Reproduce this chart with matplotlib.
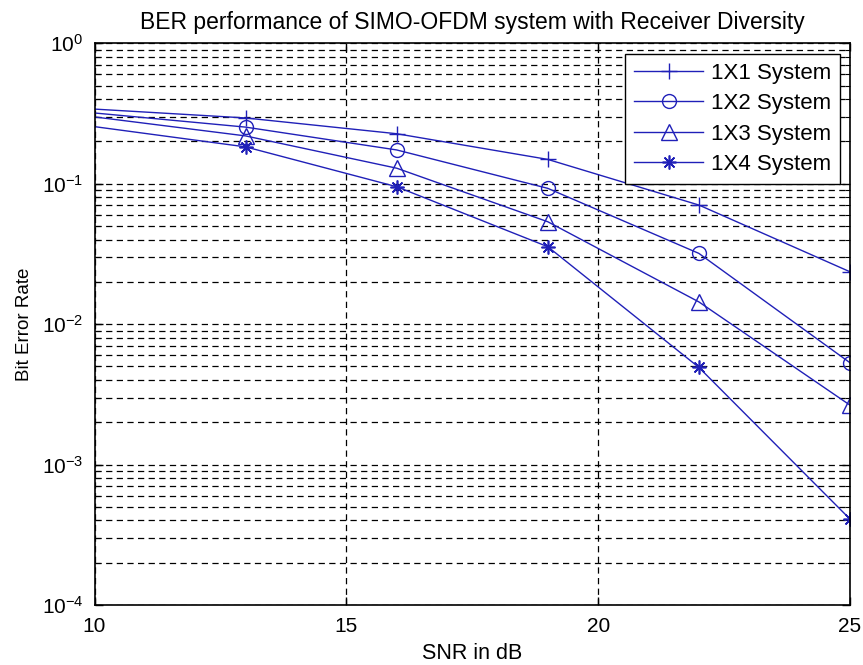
import matplotlib
matplotlib.use("Agg")
import matplotlib.pyplot as plt
from matplotlib.ticker import LogLocator, FixedLocator, NullFormatter

plt.rcParams['font.family'] = ['Liberation Sans', 'DejaVu Sans']
plt.rcParams['mathtext.fontset'] = 'custom'
plt.rcParams['mathtext.rm'] = 'Liberation Sans'

snr = [10, 13, 16, 19, 22, 25]
ber_1x1 = [0.340, 0.294, 0.227, 0.149, 0.0705, 0.0236]
ber_1x2 = [0.319, 0.253, 0.174, 0.0927, 0.0319, 0.00531]
ber_1x3 = [0.299, 0.219, 0.129, 0.0536, 0.0144, 0.00265]
ber_1x4 = [0.255, 0.183, 0.0952, 0.0356, 0.00492, 0.000409]
labels = ['1X1 System', '1X2 System', '1X3 System', '1X4 System']
x_ticks = [10, 15, 20, 25]

fig = plt.figure(figsize=(8.63, 6.65), dpi=100)
ax = fig.add_axes([94.5/863, 60/665, 755.5/863, 561.7/665])

col = '#2020b8'
me = slice(1, None)
ax.semilogy(snr, ber_1x1, color=col, lw=1.0, marker='+', ms=11, mew=1.0, markevery=me, label=labels[0])
ax.semilogy(snr, ber_1x2, color=col, lw=1.0, marker='o', ms=10, mew=1.0, mfc='none', markevery=me, label=labels[1])
ax.semilogy(snr, ber_1x3, color=col, lw=1.0, marker='^', ms=11, mew=1.0, mfc='none', markevery=me, label=labels[2])
ax.semilogy(snr, ber_1x4, color=col, lw=1.0, marker=(8, 2, 0), ms=10, mew=1.2, markevery=me, label=labels[3])

ax.set_xlim(10, 25)
ax.set_ylim(1e-4, 1)
ax.xaxis.set_major_locator(FixedLocator(x_ticks))
ax.yaxis.set_major_locator(LogLocator(base=10, numticks=10))
ax.yaxis.set_minor_locator(LogLocator(base=10, subs=range(2, 10), numticks=20))
ax.yaxis.set_minor_formatter(NullFormatter())

grid_kw = dict(color='black', linestyle=(0, (5, 3.5)), linewidth=0.9)
ax.grid(True, which='major', axis='both', **grid_kw)
ax.grid(True, which='minor', axis='y', **grid_kw)

ax.tick_params(which='both', direction='in', top=True, right=True, labelsize=15)
ax.tick_params(which='major', length=6, width=1)
ax.tick_params(which='minor', length=3.5, width=0.8)
ax.tick_params(axis='x', pad=8.5)
ax.tick_params(axis='y', pad=8)
for s in ax.spines.values():
    s.set_linewidth(1.2)

ax.set_title('BER performance of SIMO-OFDM system with Receiver Diversity', fontsize=16.5, pad=10)
ax.set_xlabel('SNR in dB', fontsize=15.5, labelpad=5)
ax.set_ylabel('Bit Error Rate', fontsize=13.5, labelpad=6)

leg = ax.legend(loc='upper right', bbox_to_anchor=(0.987, 0.981), fontsize=16,
                fancybox=False, framealpha=1, edgecolor='black', handlelength=3.1,
                borderpad=0.4, labelspacing=0.42, handletextpad=0.35, borderaxespad=0)
leg.get_frame().set_linewidth(1.0)

fig.savefig('out.png', dpi=100)
